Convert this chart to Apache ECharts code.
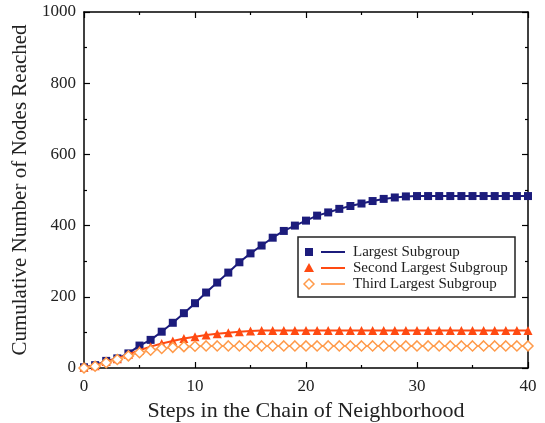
<!DOCTYPE html>
<html><head><meta charset="utf-8">
<script src="https://cdn.jsdelivr.net/npm/echarts@6/dist/echarts.min.js"></script>
<style>html,body{margin:0;padding:0;background:#fff}#c{width:545px;height:423px}</style>
</head><body><div id="c"></div>
<script>
const steps = Array.from({length: 41}, (_, i) => i);
const largest = [2, 8, 20, 27, 41, 63, 79, 102, 127, 154, 182, 212, 240, 268, 297, 322, 344, 366, 385, 400, 414, 428, 437, 447, 455, 462, 469, 475, 479, 482, 483, 483, 483, 483, 483, 483, 483, 483, 483, 483, 483];
const second = [2, 6, 18, 26, 38, 50, 60, 69, 76, 83, 88, 93, 96, 99, 102, 104, 105, 105, 105, 105, 105, 105, 105, 105, 105, 105, 105, 105, 105, 105, 105, 105, 105, 105, 105, 105, 105, 105, 105, 105, 105];
const third = [0, 5, 15, 24, 34, 43, 50, 55, 58, 60, 61, 62, 62, 62, 62, 62, 62, 62, 62, 62, 62, 62, 62, 62, 62, 62, 62, 62, 62, 62, 62, 62, 62, 62, 62, 62, 62, 62, 62, 62, 62];
const xTicks = [0, 10, 20, 30, 40];
const yTicks = [0, 200, 400, 600, 800, 1000];
const names = ['Largest Subgroup', 'Second Largest Subgroup', 'Third Largest Subgroup'];

const font = 'Liberation Serif';
const C1 = '#1c1c7c', C2 = '#ff4a12', C3 = '#ffa866', C3s = '#ff9a4a';
const chart = echarts.init(document.getElementById('c'));
const axisCommon = () => ({
  axisLine: {show: true, onZero: false, lineStyle: {color: '#000', width: 1.5}},
  axisTick: {show: true, inside: true, length: 6, lineStyle: {color: '#000', width: 1.2}},
  minorTick: {show: true, splitNumber: 2, length: 3, lineStyle: {color: '#000', width: 1.2}},
  splitLine: {show: false}
});
function pts(arr) { return arr.map((v, i) => [steps[i], v]); }

// legend drawn as a boxed key: symbol, line sample, label
const legX = 298, legY = 237, legW = 217, legH = 60, rowY = [252, 268, 284];
const legend = [
  {type: 'rect', shape: {x: legX, y: legY, width: legW, height: legH}, style: {fill: '#fff', stroke: '#222', lineWidth: 1.5}, z: 10}
];
const symbolsG = [
  {type: 'rect', shape: {x: 305, y: rowY[0] - 4, width: 8, height: 8}, style: {fill: C1}},
  {type: 'polygon', shape: {points: [[309, rowY[1] - 5], [314, rowY[1] + 4], [304, rowY[1] + 4]]}, style: {fill: C2}},
  {type: 'polygon', shape: {points: [[309, rowY[2] - 5], [314, rowY[2]], [309, rowY[2] + 5], [304, rowY[2]]]}, style: {fill: '#fff', stroke: C3s, lineWidth: 1.5}}
];
symbolsG.forEach(s => { s.z = 11; legend.push(s); });
[C1, C2, C3].forEach((c, i) => {
  legend.push({type: 'line', shape: {x1: 321, y1: rowY[i], x2: 345, y2: rowY[i]}, style: {stroke: c, lineWidth: 2}, z: 11});
  legend.push({type: 'text', x: 353, y: rowY[i], style: {text: names[i], fontFamily: font, fontSize: 15, fill: '#222', verticalAlign: 'middle', align: 'left'}, z: 11});
});

chart.setOption({
  animation: false,
  grid: {left: 84, right: 17, top: 12, bottom: 55, outerBoundsMode: 'none', containLabel: false},
  graphic: legend,
  xAxis: [
    Object.assign({type: 'value', min: 0, max: 40, interval: 10,
      name: 'Steps in the Chain of Neighborhood', nameLocation: 'middle', nameGap: 32,
      nameTextStyle: {fontFamily: font, fontSize: 22, color: '#222'},
      axisLabel: {fontFamily: font, fontSize: 17, color: '#222', margin: 10, formatter: v => xTicks.includes(v) ? String(v) : ''}}, axisCommon()),
    Object.assign({type: 'value', min: 0, max: 40, interval: 10, position: 'top', axisLabel: {show: false}}, axisCommon())
  ],
  yAxis: [
    Object.assign({type: 'value', min: 0, max: 1000, interval: 200,
      name: 'Cumulative Number of Nodes Reached', nameLocation: 'middle', nameGap: 41,
      nameTextStyle: {fontFamily: font, fontSize: 21, color: '#222'},
      axisLabel: {fontFamily: font, fontSize: 17, color: '#222', margin: 8, formatter: v => yTicks.includes(v) ? String(v) : ''}}, axisCommon()),
    Object.assign({type: 'value', min: 0, max: 1000, interval: 200, position: 'right', axisLabel: {show: false}}, axisCommon())
  ],
  series: [
    {name: names[0], type: 'line', data: pts(largest), symbol: 'rect', symbolSize: 8,
     lineStyle: {color: C1, width: 2}, itemStyle: {color: C1}, z: 3},
    {name: names[1], type: 'line', data: pts(second), symbol: 'triangle', symbolSize: 9,
     lineStyle: {color: C2, width: 2}, itemStyle: {color: C2}, z: 4},
    {name: names[2], type: 'line', data: pts(third), symbol: 'diamond', symbolSize: 10,
     lineStyle: {color: C3, width: 2}, itemStyle: {color: '#fff', borderColor: C3s, borderWidth: 1.5}, z: 5}
  ]
});
</script></body></html>
